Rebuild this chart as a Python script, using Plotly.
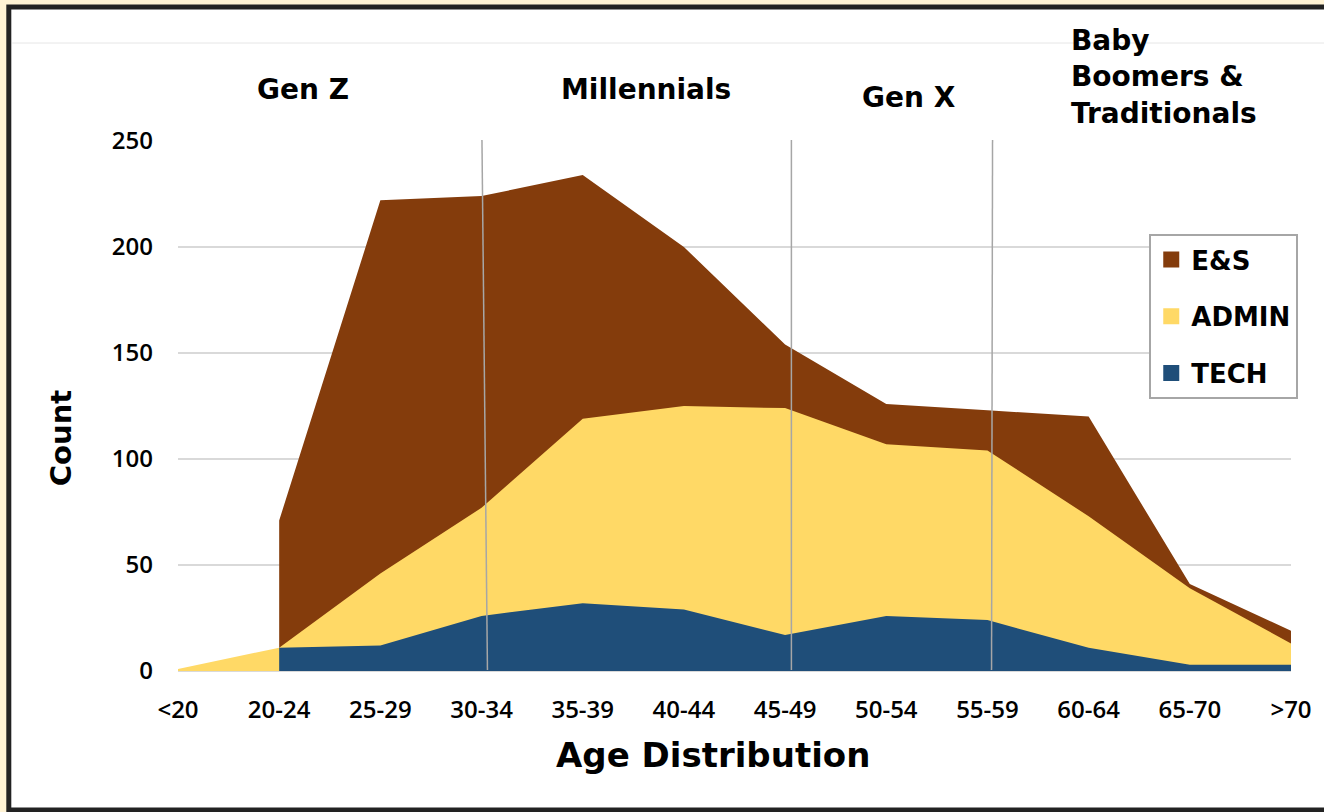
import numpy as np
import plotly.graph_objects as go

# Headcount by age band and job family
AGE_BANDS = ["<20", "20-24", "25-29", "30-34", "35-39", "40-44",
             "45-49", "50-54", "55-59", "60-64", "65-70", ">70"]
TECH = [None, 11, 12, 26, 32, 29, 17, 26, 24, 11, 3, 3]
ADMIN = [1, 0, 34, 51, 87, 96, 107, 81, 80, 62, 36, 10]
ES = [None, 60, 176, 147, 115, 75, 30, 19, 19, 47, 2, 6]

Y_TICKS = [0, 50, 100, 150, 200, 250]
GENERATIONS = ["Gen Z", "Millennials", "Gen X", "Baby<br>Boomers &<br>Traditionals"]

COLORS = {"E&S": "#843c0c", "ADMIN": "#ffd966", "TECH": "#1f4e79"}

# cumulative stack heights (TECH at the bottom, E&S on top)
tech = np.array([v if v is not None else 0 for v in TECH], dtype=float)
admin = np.array(ADMIN, dtype=float)
es = np.array([v if v is not None else 0 for v in ES], dtype=float)
tech_top = [t if v is not None else None for t, v in zip(tech, TECH)]
admin_top = list(tech + admin)
total_top = [t if v is not None else None for t, v in zip(tech + admin + es, ES)]

# figure geometry (pixels)
W, H = 1324, 812
L, R, T, B = 178, 1293, 141, 671


def px(x):
    return (x - L) / (R - L)


def py(y):
    return (B - y) / (B - T)


BOLD = "DejaVu Sans"
TICK_FONT = dict(family="Open Sans", size=24, color="black", weight=600)

fig = go.Figure()

# each layer is filled down to zero and drawn over the one beneath
for name, ys in [("E&S", total_top), ("ADMIN", admin_top), ("TECH", tech_top)]:
    xs = [a for a, v in zip(AGE_BANDS, ys) if v is not None]
    vs = [v for v in ys if v is not None]
    fig.add_trace(go.Scatter(
        x=xs, y=vs, mode="none", fill="tozeroy",
        fillcolor=COLORS[name], showlegend=False, hoverinfo="x+y",
        name=name,
    ))

# square legend swatches
for name in ["E&S", "ADMIN", "TECH"]:
    fig.add_trace(go.Scatter(
        x=[None], y=[None], mode="markers", name=name, legendgroup=name,
        marker=dict(symbol="square", size=16, color=COLORS[name]),
    ))

shapes = [
    # outer frame
    dict(type="rect", xref="paper", yref="paper", layer="below",
         x0=px(8.5), x1=px(1340), y0=py(7), y1=py(810),
         fillcolor="white", line=dict(color="#222222", width=5)),
    # faint header rule
    dict(type="line", xref="paper", yref="paper", layer="below",
         x0=px(12), x1=px(1330), y0=py(43), y1=py(43),
         line=dict(color="#e6e6e6", width=1)),
]
# generation dividers
for x_top, x_bot in [(482.5, 488), (792.5, 792.5), (994, 993)]:
    shapes.append(dict(type="line", xref="paper", yref="paper", layer="above",
                       x0=px(x_top), x1=px(x_bot), y0=py(140), y1=py(670),
                       line=dict(color="#a6a6a6", width=1.5)))

annotations = []
gen_pos = [(303, 90, "center"), (647, 90, "center"), (910, 97, "center")]
for text, (x, y, anchor) in zip(GENERATIONS[:3], gen_pos):
    annotations.append(dict(text=text, xref="paper", yref="paper",
                            x=px(x), y=py(y), xanchor=anchor, yanchor="middle",
                            showarrow=False,
                            font=dict(family=BOLD, size=28, color="black", weight="bold")))
annotations.append(dict(text=GENERATIONS[3], xref="paper", yref="paper",
                        x=px(1071), y=py(22), xanchor="left", yanchor="top",
                        align="left", showarrow=False,
                        font=dict(family=BOLD, size=28, color="black", weight="bold")))
annotations.append(dict(text="Count", xref="paper", yref="paper",
                        x=px(61), y=py(438), xanchor="center", yanchor="middle",
                        textangle=-90, showarrow=False,
                        font=dict(family=BOLD, size=29, color="black", weight="bold")))
annotations.append(dict(text="Age Distribution", xref="paper", yref="paper",
                        x=px(714), y=py(755), xanchor="center", yanchor="middle",
                        showarrow=False,
                        font=dict(family=BOLD, size=34, color="black", weight="bold")))

fig.update_layout(
    width=W, height=H, autosize=False,
    margin=dict(l=L, r=W - R, t=T, b=H - B, pad=0),
    paper_bgcolor="#fff3d4",
    plot_bgcolor="rgba(0,0,0,0)",
    shapes=shapes,
    annotations=annotations,
    legend=dict(
        x=px(1151), y=py(234), xanchor="left", yanchor="top",
        bgcolor="white", bordercolor="#a6a6a6", borderwidth=2,
        traceorder="grouped", tracegroupgap=20,
        font=dict(family=BOLD, size=26, color="black", weight="bold"),
        itemwidth=30,
    ),
    xaxis=dict(
        type="category", categoryorder="array", categoryarray=AGE_BANDS,
        range=[0, len(AGE_BANDS) - 1], showgrid=False, zeroline=False,
        showline=False, ticks="", ticklabelstandoff=22,
        tickfont=TICK_FONT,
    ),
    yaxis=dict(
        range=[0, 250], tickvals=Y_TICKS, showgrid=True,
        gridcolor="#d9d9d9", gridwidth=1.5, zeroline=True,
        zerolinecolor="#d9d9d9", zerolinewidth=1.5, showline=False,
        ticks="", ticklabelstandoff=24,
        tickfont=TICK_FONT,
    ),
)

fig.write_html("out.html")
